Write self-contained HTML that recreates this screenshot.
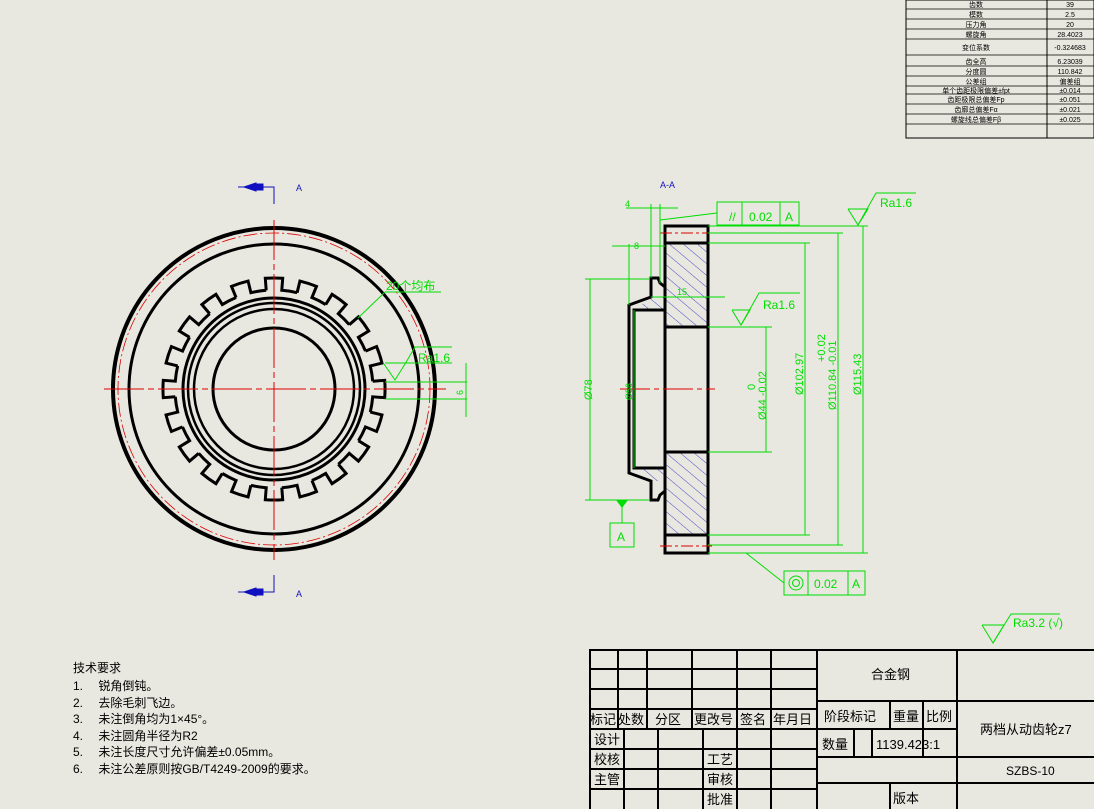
<!DOCTYPE html>
<html><head><meta charset="utf-8"><style>
html,body{margin:0;padding:0;background:#e9e8e0;}
svg{display:block;font-family:"Liberation Sans","Noto Sans CJK SC",sans-serif;}
</style></head><body>
<svg width="1094" height="809" viewBox="0 0 1094 809" xmlns="http://www.w3.org/2000/svg">
<defs>
<pattern id="h" patternUnits="userSpaceOnUse" width="9" height="9" patternTransform="rotate(-50)">
<line x1="0" y1="0" x2="0" y2="9" stroke="#2020c0" stroke-width="0.8"/></pattern>
<g id="tooth"><path d="M -7.8 -98.7 L -8.7 -110.7 A 111 111 0 0 1 8.7 -110.7 L 7.8 -98.7 A 99 99 0 0 1 23.1 -96.3" fill="none" stroke="#000" stroke-width="3"/></g>
</defs>
<rect width="1094" height="809" fill="#e9e8e0"/>

<!-- top right table -->
<g font-size="7" fill="#000" stroke="none" text-anchor="middle">
<rect x="906" y="0" width="188" height="138" fill="none" stroke="#000" stroke-width="1"/>
<line x1="1047" y1="0" x2="1047" y2="138" stroke="#000"/>
<g stroke="#000" stroke-width="0.8">
<line x1="906" y1="9" x2="1094" y2="9"/><line x1="906" y1="19" x2="1094" y2="19"/><line x1="906" y1="29" x2="1094" y2="29"/><line x1="906" y1="39" x2="1094" y2="39"/><line x1="906" y1="55" x2="1094" y2="55"/><line x1="906" y1="66" x2="1094" y2="66"/><line x1="906" y1="76" x2="1094" y2="76"/><line x1="906" y1="86" x2="1094" y2="86"/><line x1="906" y1="94" x2="1094" y2="94"/><line x1="906" y1="104" x2="1094" y2="104"/><line x1="906" y1="114" x2="1094" y2="114"/><line x1="906" y1="124" x2="1094" y2="124"/>
</g>
<text x="976" y="7">齿数</text><text x="1070" y="7">39</text>
<text x="976" y="17">模数</text><text x="1070" y="17">2.5</text>
<text x="976" y="27">压力角</text><text x="1070" y="27">20</text>
<text x="976" y="37">螺旋角</text><text x="1070" y="37">28.4023</text>
<text x="976" y="50">变位系数</text><text x="1070" y="50">-0.324683</text>
<text x="976" y="64">齿全高</text><text x="1070" y="64">6.23039</text>
<text x="976" y="74">分度圆</text><text x="1070" y="74">110.842</text>
<text x="976" y="84">公差组</text><text x="1070" y="84">偏差组</text>
<text x="976" y="93">单个齿距极限偏差±fpt</text><text x="1070" y="93">±0.014</text>
<text x="976" y="102">齿距极限总偏差Fp</text><text x="1070" y="102">±0.051</text>
<text x="976" y="112">齿廓总偏差Fα</text><text x="1070" y="112">±0.021</text>
<text x="976" y="122">螺旋线总偏差Fβ</text><text x="1070" y="122">±0.025</text>
<text x="976" y="134">　</text>
</g>

<!-- left view gear -->
<g fill="none">
<circle cx="274" cy="389" r="161" stroke="#000" stroke-width="4"/>
<circle cx="274" cy="389" r="156" stroke="#d00" stroke-width="0.8" stroke-dasharray="14 3 2 3"/>
<circle cx="274" cy="389" r="145" stroke="#000" stroke-width="3"/>
<circle cx="274" cy="389" r="91" stroke="#000" stroke-width="3"/>
<circle cx="274" cy="389" r="86" stroke="#000" stroke-width="2.5"/>
<circle cx="274" cy="389" r="80" stroke="#000" stroke-width="2.5"/>
<circle cx="274" cy="389" r="61" stroke="#000" stroke-width="3"/>
<g transform="translate(274 389)">
<use href="#tooth" transform="rotate(0)"/><use href="#tooth" transform="rotate(18)"/><use href="#tooth" transform="rotate(36)"/><use href="#tooth" transform="rotate(54)"/><use href="#tooth" transform="rotate(72)"/><use href="#tooth" transform="rotate(90)"/><use href="#tooth" transform="rotate(108)"/><use href="#tooth" transform="rotate(126)"/><use href="#tooth" transform="rotate(144)"/><use href="#tooth" transform="rotate(162)"/><use href="#tooth" transform="rotate(180)"/><use href="#tooth" transform="rotate(198)"/><use href="#tooth" transform="rotate(216)"/><use href="#tooth" transform="rotate(234)"/><use href="#tooth" transform="rotate(252)"/><use href="#tooth" transform="rotate(270)"/><use href="#tooth" transform="rotate(288)"/><use href="#tooth" transform="rotate(306)"/><use href="#tooth" transform="rotate(324)"/><use href="#tooth" transform="rotate(342)"/>
</g>
<line x1="104" y1="389" x2="446" y2="389" stroke="#d00" stroke-width="1" stroke-dasharray="40 4 6 4"/>
<line x1="274" y1="220" x2="274" y2="560" stroke="#d00" stroke-width="1" stroke-dasharray="40 4 6 4"/>
</g>
<!-- section markers -->
<g stroke="#1010c0" fill="#1010c0">
<polyline points="238,187 274,187 274,204" fill="none" stroke-width="1"/>
<polygon points="244,187 256,183 256,191"/><rect x="255" y="184" width="8" height="6"/>
<polyline points="238,592 274,592 274,575" fill="none" stroke-width="1"/>
<polygon points="244,592 256,588 256,596"/><rect x="255" y="589" width="8" height="6"/>
</g>
<g fill="#1010c0" font-size="9"><text x="296" y="191">A</text><text x="296" y="597">A</text><text x="660" y="188">A-A</text></g>
<!-- green annotations left -->
<g stroke="#00dd00" fill="none" stroke-width="1">
<line x1="358" y1="318" x2="385" y2="292"/><line x1="385" y1="292" x2="441" y2="292"/>
<line x1="385" y1="363" x2="452" y2="363"/><line x1="385" y1="382" x2="467" y2="382"/><line x1="385" y1="399" x2="467" y2="399"/>
<polyline points="384,364 395,380 405,364 415,347 452,347"/>
<line x1="466" y1="363" x2="466" y2="417"/>
</g>
<g fill="#00dd00" font-size="12"><text x="386" y="290">20个均布</text><text x="418" y="362">Ra1.6</text>
<text x="0" y="0" font-size="9" transform="translate(463 395) rotate(-90)">6</text></g>

<!-- section view -->
<g>
<rect x="665" y="243" width="43" height="84" fill="url(#h)"/>
<rect x="665" y="452" width="43" height="83" fill="url(#h)"/>
<polygon points="652,297 665,297 665,310 634,310" fill="url(#h)"/>
<polygon points="652,481 665,481 665,468 634,468" fill="url(#h)"/>
<g fill="none" stroke="#000" stroke-width="3">
<path d="M665 226 L708 226 L708 553 L665 553 Z"/>
<line x1="665" y1="243" x2="708" y2="243"/><line x1="665" y1="535" x2="708" y2="535"/>
<line x1="665" y1="327" x2="708" y2="327"/><line x1="665" y1="452" x2="708" y2="452"/>
<polyline points="665,287 660,283 658,278 651,278 651,297 629,305 629,473 651,481 651,500 658,500 660,495 665,491"/>
<rect x="634" y="310" width="31" height="158"/>
</g>
<line x1="660" y1="233" x2="712" y2="233" stroke="#d00" stroke-dasharray="12 3 3 3"/>
<line x1="660" y1="546" x2="712" y2="546" stroke="#d00" stroke-dasharray="12 3 3 3"/>
<line x1="620" y1="389" x2="715" y2="389" stroke="#d00" stroke-dasharray="30 4 5 4"/>
</g>
<!-- green dims section -->
<g stroke="#00dd00" fill="none" stroke-width="1">
<line x1="708" y1="226" x2="868" y2="226"/><line x1="708" y1="553" x2="868" y2="553"/>
<line x1="708" y1="233" x2="843" y2="233"/><line x1="708" y1="545" x2="843" y2="545"/>
<line x1="708" y1="243" x2="810" y2="243"/><line x1="708" y1="535" x2="810" y2="535"/>
<line x1="708" y1="327" x2="772" y2="327"/><line x1="708" y1="452" x2="772" y2="452"/>
<line x1="863" y1="226" x2="863" y2="553"/><line x1="838" y1="233" x2="838" y2="545"/>
<line x1="805" y1="243" x2="805" y2="535"/><line x1="766" y1="327" x2="766" y2="452"/>
<line x1="585" y1="279" x2="650" y2="279"/><line x1="585" y1="500" x2="650" y2="500"/>
<line x1="590" y1="279" x2="590" y2="500"/>
<line x1="634" y1="310" x2="634" y2="468"/>
<line x1="626" y1="208" x2="678" y2="208"/><line x1="651" y1="204" x2="651" y2="278"/><line x1="660" y1="204" x2="660" y2="283"/>
<line x1="612" y1="246" x2="665" y2="246"/><line x1="629" y1="244" x2="629" y2="305"/>
<line x1="651" y1="297" x2="725" y2="297"/>
<line x1="660" y1="220" x2="717" y2="213"/>
<rect x="717" y="202" width="82" height="23"/><line x1="742" y1="202" x2="742" y2="225"/><line x1="780" y1="202" x2="780" y2="225"/>
<polyline points="848,209 858,225 868,209 848,209"/><polyline points="858,225 876,193 916,193"/>
<polyline points="732,310 741,325 750,310 732,310"/><polyline points="741,325 759,293 800,293"/>
<line x1="622" y1="500" x2="622" y2="523"/><rect x="610" y="523" width="24" height="24"/>
<line x1="746" y1="553" x2="784" y2="583"/>
<rect x="784" y="571" width="81" height="24"/><line x1="808" y1="571" x2="808" y2="595"/><line x1="848" y1="571" x2="848" y2="595"/>
<circle cx="796" cy="583" r="7"/><circle cx="796" cy="583" r="3.5"/>
<polyline points="982,625 993,643 1004,625 982,625"/><polyline points="993,643 1011,614 1060,614"/>
</g>
<polygon points="616,500 628,500 622,508" fill="#00dd00"/>
<g fill="#00dd00" font-size="12">
<text x="625" y="207" font-size="9">4</text><text x="634" y="249" font-size="9">8</text><text x="677" y="295" font-size="9">15</text>
<text x="749" y="221">0.02</text><text x="785" y="221">A</text><text x="729" y="221">//</text>
<text x="880" y="207">Ra1.6</text><text x="763" y="309">Ra1.6</text>
<text x="617" y="541">A</text>
<text x="814" y="588">0.02</text><text x="852" y="588">A</text>
<text x="1013" y="627">Ra3.2 (√)</text>
<g font-size="11">
<text transform="translate(592 400) rotate(-90)">Ø78</text>
<text transform="translate(632 400) rotate(-90)" font-size="9">Ø56</text>
<text transform="translate(755 390) rotate(-90)">0</text>
<text transform="translate(766 420) rotate(-90)">Ø44 -0.02</text>
<text transform="translate(803 395) rotate(-90)">Ø102.97</text>
<text transform="translate(825 362) rotate(-90)">+0.02</text>
<text transform="translate(836 410) rotate(-90)">Ø110.84 -0.01</text>
<text transform="translate(861 395) rotate(-90)">Ø115.43</text>
</g></g>

<!-- tech requirements -->
<g font-size="12" fill="#000">
<text x="73" y="672">技术要求</text>
<text x="73" y="690">1.　 锐角倒钝。</text>
<text x="73" y="707">2.　 去除毛刺飞边。</text>
<text x="73" y="723">3.　 未注倒角均为1×45°。</text>
<text x="73" y="740">4.　 未注圆角半径为R2</text>
<text x="73" y="756">5.　 未注长度尺寸允许偏差±0.05mm。</text>
<text x="73" y="773">6.　 未注公差原则按GB/T4249-2009的要求。</text>
</g>

<!-- title block -->
<g stroke="#000" stroke-width="2" fill="none">
<rect x="590" y="650" width="510" height="165"/>
<line x1="590" y1="669" x2="817" y2="669"/><line x1="590" y1="689" x2="817" y2="689"/><line x1="590" y1="709" x2="817" y2="709"/>
<line x1="590" y1="729" x2="817" y2="729"/><line x1="590" y1="749" x2="817" y2="749"/><line x1="590" y1="769" x2="817" y2="769"/><line x1="590" y1="789" x2="817" y2="789"/>
<line x1="618" y1="650" x2="618" y2="729"/><line x1="647" y1="650" x2="647" y2="729"/><line x1="692" y1="650" x2="692" y2="729"/>
<line x1="737" y1="650" x2="737" y2="809"/><line x1="771" y1="650" x2="771" y2="809"/><line x1="817" y1="650" x2="817" y2="809"/>
<line x1="624" y1="729" x2="624" y2="809"/><line x1="658" y1="729" x2="658" y2="809"/><line x1="703" y1="729" x2="703" y2="809"/>
<line x1="957" y1="650" x2="957" y2="809"/>
<line x1="817" y1="701" x2="1094" y2="701"/><line x1="817" y1="729" x2="957" y2="729"/>
<line x1="817" y1="757" x2="1094" y2="757"/><line x1="817" y1="783" x2="1094" y2="783"/>
<line x1="890" y1="701" x2="890" y2="729"/><line x1="923" y1="701" x2="923" y2="757"/>
<line x1="854" y1="729" x2="854" y2="757"/><line x1="872" y1="729" x2="872" y2="757"/>
<line x1="890" y1="783" x2="890" y2="809"/>
</g>
<g font-size="13" fill="#000">
<text x="590" y="724">标记</text><text x="618" y="724">处数</text><text x="655" y="724">分区</text><text x="694" y="724">更改号</text><text x="740" y="724">签名</text><text x="773" y="724">年月日</text>
<text x="594" y="744">设计</text><text x="594" y="764">校核</text><text x="594" y="784">主管</text>
<text x="707" y="764">工艺</text><text x="707" y="784">审核</text><text x="707" y="804">批准</text>
<text x="871" y="679">合金钢</text>
<text x="824" y="721">阶段标记</text><text x="893" y="721">重量</text><text x="926" y="721">比例</text>
<text x="822" y="749">数量</text><text x="876" y="749">1139.423:1</text>
<text x="893" y="803">版本</text>
<text x="980" y="734">两档从动齿轮z7</text>
<text x="1006" y="775" font-size="12">SZBS-10</text>
</g>
</svg>
</body></html>
